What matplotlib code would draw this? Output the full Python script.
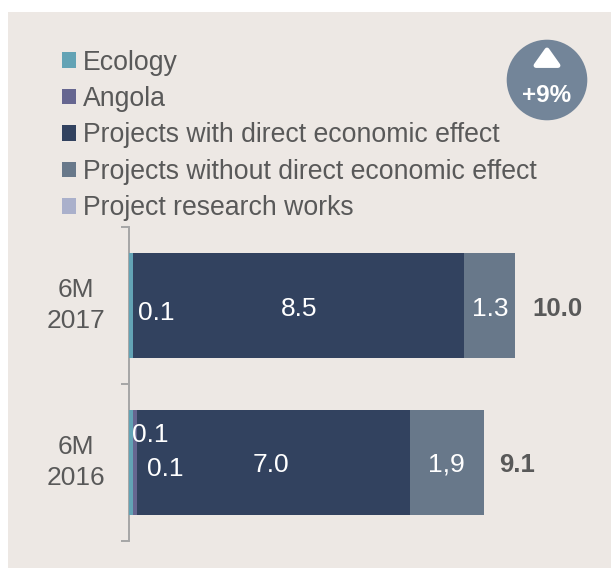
import numpy as np
import matplotlib
matplotlib.use("Agg")
import matplotlib.pyplot as plt
import matplotlib.patches as patches

plt.rcParams['font.family'] = ['Liberation Sans', 'DejaVu Sans']

W, H = 611, 568

# data, bottom row first
periods = ["6M\n2016", "6M\n2017"]
ecology = [0.1, 0.1]
angola = [0.1, 0.0]
with_effect = [7.0, 8.5]
without_effect = [1.9, 1.3]
research = [0.0, 0.0]
totals = ["9.1", "10.0"]
change = "+9%"

names = ["Ecology", "Angola", "Projects with direct economic effect",
	"Projects without direct economic effect", "Project research works"]
colors = ["#63a3b5", "#666690", "#32425f", "#68788a", "#aab0cb"]
grey = "#595959"

fig = plt.figure(figsize=(W/100, H/100), dpi=100, facecolor="white")

# background panel and the badge, in pixels
bg = fig.add_axes([0, 0, 1, 1])
bg.set_xlim(0, W)
bg.set_ylim(H, 0)
bg.axis("off")
bg.add_patch(patches.Rectangle((8, 12), W - 8, H - 12, facecolor="#ede8e4", edgecolor="none"))
bg.add_patch(patches.Circle((547, 80), 40.3, facecolor="#738599", edgecolor="none"))
bg.add_patch(patches.Polygon([[536, 65.5], [558, 65.5], [547, 50]], closed=True,
	facecolor="white", edgecolor="white", linewidth=3.5, joinstyle="round"))
bg.text(547, 95, change, color="white", fontsize=17.5, fontweight="bold", ha="center", va="center")

# chart axes
ax = fig.add_axes([129/W, 1 - 541/H, 470/W, 314/H])
ax.patch.set_alpha(0)
ax.set_xlim(0, 470/39)
ax.set_ylim(-0.5, 1.5)
for s in ["top", "right", "bottom"]:
	ax.spines[s].set_visible(False)
ax.spines["left"].set_color("#a6a6a6")
ax.spines["left"].set_linewidth(1.4)
ax.set_xticks([])
ax.set_yticks([-0.5, 0.5, 1.5])
ax.set_yticklabels([])
ax.tick_params(axis="y", length=6, width=1.4, color="#a6a6a6", direction="out")

y = np.arange(len(periods))
series = [ecology, angola, with_effect, without_effect, research]
left = np.zeros(len(periods))
for vals, c, n in zip(series, colors, names):
	ax.barh(y, vals, height=0.669, left=left, color=c, label=n, zorder=3)
	left = left + np.array(vals)

# category labels
for i, p in enumerate(periods):
	ax.annotate(p, (0, y[i]), xytext=(-53, 0), textcoords="offset pixels", color=grey,
		fontsize=19, ha="center", va="center", linespacing=1.37)

def seg(i, n):
	before = sum(s[i] for s in series[:n])
	return before + series[n][i]/2

def lab(txt, i, n, dx, dy):
	ax.annotate(txt, (seg(i, n), y[i]), xytext=(dx, dy), textcoords="offset pixels",
		color="white", fontsize=19, ha="center", va="center", zorder=5)

# top bar
lab("0.1", 1, 0, 25, -7)
lab("8.5", 1, 2, 0, -3)
lab("1.3", 1, 3, 1, -3)
# bottom bar
lab("0.1", 0, 1, 15, 28)
lab("0.1", 0, 1, 30, -6)
lab("7.0", 0, 2, -2, -2)
lab("1,9", 0, 3, 0, -2)

for i in range(len(periods)):
	ax.annotate(totals[i], (left[i], y[i]), xytext=(42 if i == 1 else 33, -3 if i == 1 else -2),
		textcoords="offset pixels", color=grey, fontsize=18.5, fontweight="bold", ha="center", va="center")

fig.legend(*ax.get_legend_handles_labels(), loc="upper left", bbox_to_anchor=(51/W, 1 - 39/H),
	frameon=False, fontsize=19.2, labelcolor=grey, handlelength=0.525, handleheight=0.525,
	handletextpad=0.275, labelspacing=0.39, borderpad=0.4, borderaxespad=0)

fig.savefig("out.png", dpi=100)
